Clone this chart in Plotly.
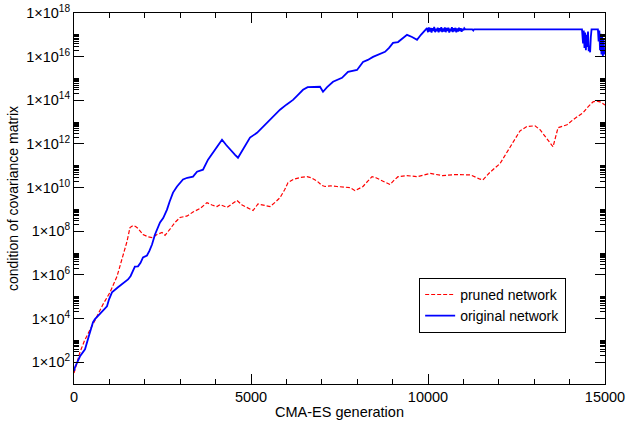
import numpy as np
import plotly.graph_objects as go

# ---- data (y stored as log10 of the condition number) ----
orig_gen = [0, 28, 170, 311, 420, 537, 593, 700, 791, 932, 990, 1073, 1243, 1441, 1526, 1600, 1667, 1720,
            1808, 1880, 1949, 2062, 2130, 2204, 2288, 2360, 2430, 2520, 2627, 2700, 2797, 2910, 3000, 3079,
            3200, 3362, 3475, 3644, 3786, 3900, 3983, 4100, 4181, 4300, 4407, 4550, 4633, 4800, 4972, 5170,
            5339, 5480, 5622, 5820, 6000, 6187, 6300, 6469, 6600, 6752, 6950, 7034, 7150, 7317, 7450, 7571,
            7740, 7995, 8164, 8300, 8447, 8600, 8786, 8900, 9012, 9153, 9280, 9407, 9550, 9690, 9800, 9916,
            9972,
            10000, 10025, 10050, 10075, 10100, 10125, 10150, 10175, 10200, 10225, 10250, 10275, 10300, 10325,
            10350, 10375, 10400, 10425, 10450, 10475, 10500, 10525, 10550, 10575, 10600, 10625, 10650, 10675,
            10700, 10725, 10750, 10775, 10800, 10825, 10850, 10875, 10900, 10925, 10950, 10975, 11000, 11025,
            11050, 11100, 11250, 11280, 11300, 14350,
            14380, 14400, 14420, 14440, 14460, 14480, 14500, 14520, 14540, 14560, 14580, 14600, 14620, 14800,
            14820, 14840, 14860, 14880, 14900, 14920, 14940, 14960, 14980, 15000]
orig_log10 = [1.6, 1.77, 2.27, 2.59, 3.2, 3.83, 3.97, 4.15, 4.33, 4.56, 4.88, 5.2, 5.43, 5.7, 5.79, 5.95, 6.16, 6.38,
              6.39, 6.55, 6.8, 6.89, 7.1, 7.39, 7.85, 8.1, 8.4, 8.6, 8.99, 9.35, 9.77, 10.05, 10.25, 10.37,
              10.45, 10.5, 10.73, 10.82, 11.28, 11.55, 11.74, 12.0, 12.19, 11.95, 11.74, 11.5, 11.37, 11.85, 12.29, 12.51,
              12.79, 13.0, 13.25, 13.57, 13.8, 14.02, 14.2, 14.48, 14.6, 14.62, 14.62, 14.39, 14.6, 14.85, 14.95, 15.03,
              15.3, 15.39, 15.76, 15.85, 15.99, 16.1, 16.22, 16.4, 16.63, 16.67, 16.85, 17.0, 16.9, 16.77, 17.0, 17.22,
              17.31,
              17.12, 17.34, 17.15, 17.32, 17.1, 17.3, 17.18, 17.36, 17.12, 17.28, 17.16, 17.33, 17.11, 17.3,
              17.17, 17.35, 17.13, 17.29, 17.15, 17.34, 17.12, 17.31, 17.18, 17.33, 17.1, 17.28, 17.16, 17.35,
              17.13, 17.3, 17.17, 17.32, 17.12, 17.29, 17.15, 17.33, 17.18, 17.3, 17.14, 17.28, 17.2, 17.3,
              17.25, 17.25, 17.25, 17.2, 17.25, 17.25,
              16.6, 17.2, 16.4, 17.1, 16.3, 17.0, 16.45, 17.15, 16.25, 16.5, 16.2, 16.9, 17.25, 17.25,
              16.7, 17.2, 16.3, 17.05, 16.1, 16.9, 16.0, 16.8, 16.1, 16.3]

pruned_gen = [0, 28, 170, 300, 452, 650, 819, 1017, 1215, 1384, 1497, 1582, 1667, 1740, 1808, 1949, 2080, 2204,
              2345, 2486, 2571, 2712, 2850, 2995, 3200, 3362, 3560, 3757, 3900, 4040, 4124, 4322, 4460, 4605,
              4750, 4887, 5057, 5198, 5350, 5537, 5700, 5820, 5950, 6046, 6200, 6384, 6582, 6700, 6865, 7000,
              7091, 7250, 7430, 7600, 7797, 7938, 8050, 8164, 8300, 8419, 8530, 8645, 8800, 8927, 9050, 9153,
              9400, 9700, 10057, 10400, 10800, 11200, 11450, 11550, 11750, 12035, 12317, 12600, 12797, 13023,
              13165, 13300, 13447, 13532, 13673, 13927, 14097, 14379, 14520, 14662, 14760, 14860, 15000]
pruned_log10 = [1.5, 1.68, 2.46, 3.0, 3.51, 4.1, 4.65, 5.2, 5.93, 6.85, 7.53, 8.17, 8.26, 8.22, 8.13, 7.85, 7.75, 7.71,
                7.85, 7.94, 7.81, 8.1, 8.4, 8.63, 8.7, 8.88, 9.04, 9.31, 9.2, 9.13, 9.22, 9.09, 9.25, 9.41,
                9.2, 9.09, 8.95, 9.25, 9.2, 9.13, 9.35, 9.54, 9.9, 10.23, 10.38, 10.46, 10.5, 10.45, 10.3, 10.1,
                10.05, 10.08, 10.05, 10.03, 10.0, 9.86, 9.95, 10.05, 10.3, 10.5, 10.45, 10.37, 10.25, 10.14, 10.35, 10.5,
                10.55, 10.5, 10.65, 10.55, 10.6, 10.58, 10.4, 10.35, 10.7, 11.1, 11.85, 12.6, 12.8, 12.83,
                12.65, 12.35, 12.06, 11.87, 12.74, 12.88, 13.11, 13.43, 13.7, 13.93, 13.97, 13.93, 13.79]

x_tick_vals = [0, 5000, 10000, 15000]
x_tick_text = ["0", "5000", "10000", "15000"]
y_tick_exps = [2, 4, 6, 8, 10, 12, 14, 16, 18]
y_tick_text = ["1×10<sup>%d</sup>" % e for e in y_tick_exps]
y_minor_mult = [2, 3, 4, 5, 6, 7, 8, 9, 10]

orig_y = np.power(10.0, orig_log10)
pruned_y = np.power(10.0, pruned_log10)
y_tick_vals = [10.0 ** e for e in y_tick_exps]
y_minor_vals = [m * 10.0 ** e for e in y_tick_exps[:-1] for m in y_minor_mult]

FONT = "Liberation Sans, Arial, Helvetica, sans-serif"

fig = go.Figure()
fig.add_trace(go.Scatter(x=pruned_gen, y=pruned_y, mode="lines", name="pruned network",
                         line=dict(color="#ff0000", width=1.2, dash="4px,2px")))
fig.add_trace(go.Scatter(x=orig_gen, y=orig_y, mode="lines", name="original network",
                         line=dict(color="#0000ff", width=1.8)))

axis_common = dict(showline=True, linecolor="black", linewidth=1, mirror="ticks", ticks="inside",
                   tickcolor="black", tickwidth=1, ticklen=10, showgrid=False, zeroline=False,
                   automargin=False, tickfont=dict(family=FONT, size=14.5, color="black"))

fig.update_layout(
    width=626, height=421,
    margin=dict(l=74, r=21, t=13, b=37),
    paper_bgcolor="white", plot_bgcolor="white",
    font=dict(family=FONT, size=14, color="black"),
    xaxis=dict(range=[0, 15000], tickmode="array", tickvals=x_tick_vals, ticktext=x_tick_text,
               title=dict(text="CMA-ES generation", font=dict(family=FONT, size=14.5), standoff=2),
               minor=dict(dtick=1000, ticks="inside", ticklen=5, tickcolor="black", tickwidth=1),
               **axis_common),
    yaxis=dict(type="log", range=[1, 18], tickmode="array", tickvals=y_tick_vals, ticktext=y_tick_text,
               title=dict(text="condition of covariance matrix", font=dict(family=FONT, size=14), standoff=4),
               minor=dict(tickmode="array", tickvals=y_minor_vals, ticks="inside", ticklen=5,
                          tickcolor="black", tickwidth=1),
               **axis_common),
    legend=dict(x=0.65, y=0.286, xanchor="left", yanchor="top", bgcolor="white",
                bordercolor="black", borderwidth=1, font=dict(family=FONT, size=14),
                itemwidth=30, tracegroupgap=0),
    showlegend=True,
)

fig.write_html("out.html")
